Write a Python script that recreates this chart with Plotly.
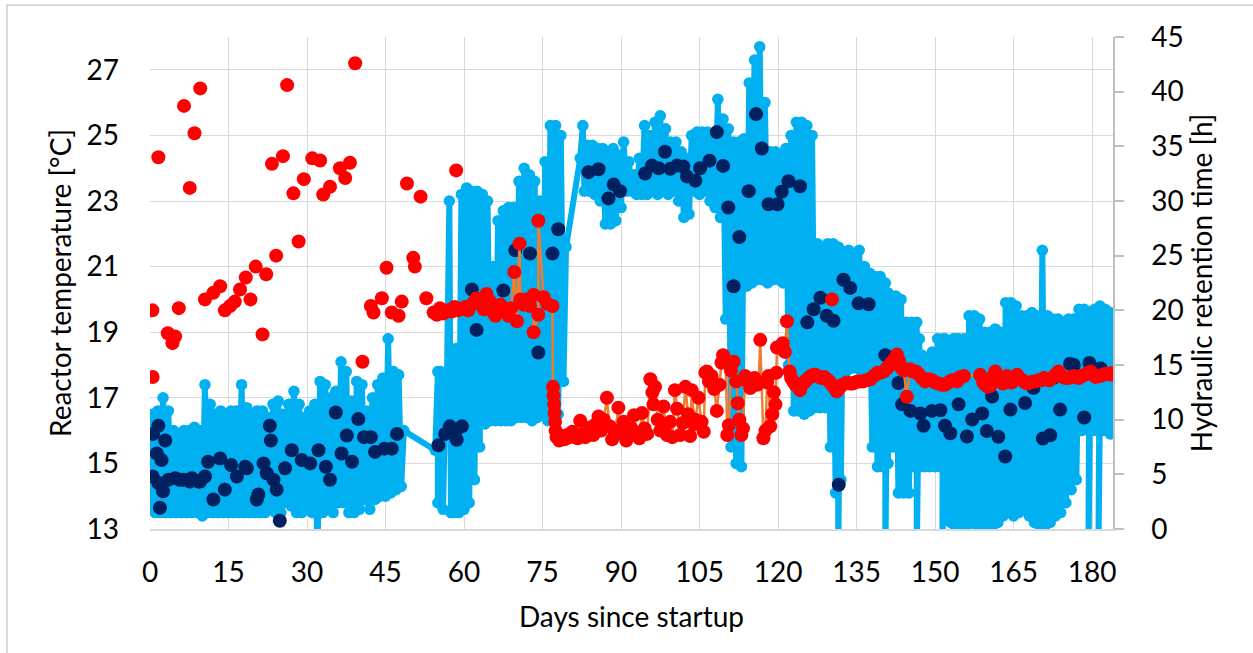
import plotly.graph_objects as go

# ---------------- data ----------------
# Light-blue reactor temperature log: two readings per logged day (first, second)
BLUE_DAY = [0, 1, 2, 3, 4, 5, 6, 7, 8, 9, 10, 11, 12, 13, 14, 15, 16, 17, 18, 19, 20,
            21, 22, 23, 24, 25, 26, 27, 28, 29, 30, 31, 32, 33, 34, 35, 36, 37, 38, 39, 40,
            41, 42, 43, 44, 45, 46, 47, 48,
            54.5, 55, 56, 56.7, 57.5, 58, 59, 60, 61, 62, 63, 64, 65, 66, 67, 68, 69, 70,
            71, 72, 73, 74, 75, 76, 77, 78, 79,
            82.2, 83, 84, 85, 86, 87, 88, 89, 90, 91, 92, 93, 94, 95, 96, 97, 98, 99, 100,
            101, 102, 103, 104, 105, 106, 107, 108, 109, 110, 111, 112, 113, 114, 115, 116,
            117, 118, 119, 120, 121, 122, 123, 124, 125, 126, 127, 128, 129, 130, 131, 131.5,
            132, 133, 134, 135, 136, 137, 138, 139, 140, 140.5, 141, 142, 143, 144, 145, 146,
            146.5, 147, 148, 149, 150, 151, 151.4, 152, 153, 153.4, 154, 155, 156, 157, 158,
            159, 160, 161, 162, 163, 164, 165, 166, 167, 168, 169, 170, 171, 172, 173, 174,
            175, 176, 177, 178, 179, 179.3, 180, 181, 181.2, 182, 183, 183.5]
BLUE_FIRST = [13.6, 13.5, 13.5, 13.5, 13.5, 13.5, 13.5, 13.5, 13.5, 13.5, 13.4, 13.5, 13.5,
              13.5, 13.5, 13.5, 13.5, 13.5, 13.5, 13.5, 13.5, 13.5, 13.5, 13.6, 13.5, 13.5,
              13.8, 13.7, 13.5, 13.5, 13.6, 13.5, 12.0, 13.5, 13.6, 13.5, 13.8, 13.8, 13.5,
              13.5, 13.6, 13.9, 13.6, 13.9, 14.0, 14.0, 14.1, 14.2, 14.3,
              15.4, 13.8, 13.6, 17.2, 13.5, 13.5, 13.5, 13.6, 13.8, 14.5, 15.5, 16.2, 16.3,
              16.3, 16.3, 16.3, 16.3, 16.4, 16.4, 16.4, 16.3, 16.4, 16.5, 16.3, 16.4, 16.5, 17.5,
              24.3, 23.3, 23.3, 23.2, 23.0, 22.3, 22.3, 22.4, 22.8, 23.3, 23.3, 23.2, 23.2,
              23.2, 23.3, 23.2, 23.3, 23.2, 23.3, 23.0, 22.5, 22.6, 23.3, 23.2, 23.3, 23.0,
              22.8, 22.5, 19.4, 15.5, 15.0, 14.9, 20.4, 20.5, 20.6, 20.6, 20.5, 20.6, 20.6,
              20.5, 18.0, 16.6, 16.6, 16.5, 16.6, 16.7, 16.7, 16.7, 15.5, 14.1, 12.0,
              14.5, 17.8, 17.9, 17.9, 17.8, 17.8, 15.5, 14.9, 14.9, 12.0, 15.0, 15.5, 14.1,
              14.1, 14.1, 14.9, 12.0, 14.9, 14.9, 14.9, 14.9, 14.9, 12.0, 13.3, 13.2, 12.0,
              13.2, 13.1, 13.1, 13.2, 13.1, 13.1, 13.1, 13.1, 13.2, 13.4, 13.5, 13.4, 13.5,
              13.6, 13.4, 13.2, 13.1, 13.1, 13.2, 13.4, 13.5, 13.8, 14.2, 14.5, 16.0, 16.1,
              12.0, 16.0, 16.0, 12.0, 16.0, 16.1, 15.9]
BLUE_SECOND = [16.5, 16.6, 17.0, 16.6, 16.0, 15.9, 16.0, 16.0, 16.1, 16.0, 17.4, 16.8, 16.5,
               16.6, 16.5, 16.6, 16.6, 17.4, 16.7, 16.5, 16.6, 16.6, 16.4, 16.8, 16.9, 16.5,
               16.8, 17.2, 16.8, 16.4, 16.6, 16.8, 17.5, 17.4, 17.0, 17.2, 18.1, 17.8, 16.9,
               17.5, 17.4, 16.6, 17.0, 17.4, 17.6, 18.8, 17.8, 17.7, 16.0,
               17.8, 17.8, 17.6, 23.0, 17.8, 18.5, 23.2, 23.4, 23.3, 23.3, 23.2, 23.0, 21.0,
               22.4, 22.7, 22.8, 22.8, 23.6, 24.0, 23.8, 23.6, 23.0, 24.2, 25.3, 25.3, 25.0, 21.6,
               25.3, 24.7, 24.7, 24.6, 24.6, 24.5, 24.6, 24.4, 24.8, 24.2, 23.8, 24.3, 25.3,
               25.0, 25.4, 25.6, 25.2, 24.8, 24.8, 24.5, 24.3, 25.0, 25.1, 25.1, 25.1, 25.0,
               26.1, 25.5, 25.2, 24.8, 24.8, 24.9, 26.6, 27.3, 27.7, 26.0, 24.5, 24.5, 24.4,
               24.6, 25.0, 25.4, 25.4, 25.3, 25.0, 21.7, 21.6, 21.7, 21.7, 21.6, 21.5,
               21.4, 21.5, 21.4, 21.5, 21.0, 20.8, 20.7, 20.7, 20.5, 20.2, 20.1, 20.1, 20.0,
               19.3, 19.3, 19.3, 18.8, 18.3, 18.2, 18.4, 18.8, 18.8, 18.8, 18.7, 18.8, 18.8,
               18.8, 18.8, 19.5, 19.5, 19.4, 19.0, 19.0, 19.1, 19.0, 19.9, 19.9, 19.8, 19.5,
               19.5, 19.6, 19.5, 21.5, 19.5, 19.4, 19.4, 19.3, 19.4, 19.4, 19.7, 19.7, 19.6,
               19.6, 19.7, 19.8, 19.6, 19.7, 19.6, 19.5]

# Dark-blue daily mean reactor temperature
NAVY_DAY = [0.5, 0.6, 1.3, 1.6, 1.6, 1.9, 2.2, 2.5, 2.9, 3.5, 4.8, 5.7, 6.4, 7.6, 8.0, 9.2,
            9.6, 10.5, 11.1, 12.1, 13.4, 14.3, 15.5, 16.6, 18.2, 18.5, 20.4, 20.7, 21.7, 22.3,
            22.9, 23.1, 23.6, 24.2, 24.8, 25.8, 27.1, 29.0, 30.6, 32.2, 33.6, 34.4, 35.5, 36.6,
            37.6, 38.6, 39.8, 40.9, 42.2, 43.0, 44.8, 46.2, 47.2,
            55.1, 56.4, 57.3, 58.3, 58.6, 59.6, 61.5, 62.4, 67.5, 69.8, 72.6, 74.2, 76.9, 78.0,
            83.8, 85.7, 87.6, 88.6, 89.8, 94.6, 95.9, 97.2, 98.4, 99.4, 100.7, 101.9, 102.6,
            104.2, 105.1, 106.9, 108.3, 109.5, 110.5, 111.5, 112.6, 114.4, 115.8, 116.9, 118.2,
            119.9, 120.7, 122.0, 124.2, 125.6, 126.8, 128.1, 129.3, 130.6, 131.6, 132.5, 133.8,
            135.4, 137.3, 140.5, 143.0, 143.7, 145.3, 147.2, 147.8, 149.4, 151.0, 151.9, 152.9,
            154.5, 156.1, 157.1, 159.0, 159.9, 160.9, 162.1, 163.4, 164.4, 167.2, 168.8, 170.6,
            172.0, 172.7, 173.9, 175.8, 176.5, 178.5, 179.5, 181.6]
NAVY_T = [14.6, 15.9, 15.3, 16.15, 14.4, 13.65, 15.1, 14.15, 15.7, 14.5, 14.55, 14.5, 14.5,
          14.45, 14.55, 14.45, 14.45, 14.6, 15.05, 13.9, 15.15, 14.2, 14.95, 14.6, 14.9, 14.85,
          13.9, 14.05, 15.0, 14.7, 16.15, 15.7, 14.5, 14.2, 13.25, 14.85, 15.4, 15.1, 15.0,
          15.4, 14.9, 14.5, 16.55, 15.3, 15.85, 15.05, 16.35, 15.8, 15.8, 15.35, 15.45, 15.45,
          15.9,
          15.55, 15.9, 16.13, 15.92, 15.72, 16.13, 20.3, 19.07, 20.27, 21.5, 21.4, 18.38, 21.4,
          22.14,
          23.88, 23.97, 23.08, 23.5, 23.3, 23.84, 24.08, 24.0, 24.5, 23.98, 24.08, 24.05, 23.75,
          23.62, 24.0, 24.23, 25.1, 24.07, 22.8, 20.4, 21.9, 23.3, 25.65, 24.6, 22.9, 22.9,
          23.28, 23.6, 23.45, 19.3, 19.7, 20.05, 19.5, 19.35, 14.35, 20.6, 20.35, 19.88, 19.85,
          18.3, 17.45, 16.8, 16.6, 16.52, 16.15, 16.6, 16.62, 16.15, 15.92, 16.8, 15.82, 16.34,
          16.52, 15.99, 17.04, 15.81, 15.21, 16.64, 16.84, 17.3, 15.76, 15.86, 17.62, 16.64,
          18.04, 18.0, 16.4, 18.06, 17.9]

# Red hydraulic retention time, early scattered values (markers only)
HRT_EARLY_DAY = [0.45, 0.5, 1.6, 3.4, 4.3, 4.8, 5.5, 6.5, 7.6, 8.5, 9.6, 10.5, 12.1, 13.4,
                 14.3, 15.3, 16.2, 17.2, 18.3, 19.2, 20.2, 21.5, 22.2, 23.3, 24.1, 25.4, 26.2,
                 27.4, 28.4, 29.4, 31.0, 32.5, 33.1, 34.4, 36.3, 37.3, 38.2, 39.2, 40.6, 42.2,
                 42.7, 44.3, 45.2, 46.2, 47.5, 48.1, 49.1, 50.3, 50.6, 51.7, 52.8, 58.5, 130.3]
HRT_EARLY_H = [20.0, 13.9, 34.0, 17.9, 17.0, 17.6, 20.2, 38.7, 31.2, 36.2, 40.3, 21.0, 21.6,
               22.2, 20.0, 20.4, 20.8, 21.9, 23.0, 21.0, 24.0, 17.8, 23.3, 33.4, 25.0, 34.1,
               40.6, 30.7, 26.3, 32.0, 33.9, 33.7, 30.6, 31.3, 33.0, 32.1, 33.5, 42.6, 15.3,
               20.4, 19.8, 21.1, 23.9, 19.8, 19.5, 20.8, 31.6, 24.8, 24.0, 30.4, 21.1, 32.8,
               21.0]

# Red hydraulic retention time, continuous record (markers joined by orange line)
HRT_DAY = [54.2, 54.8, 55.4, 56.0, 56.5, 57.1, 57.7, 58.2, 58.8, 59.3, 59.9, 60.3, 60.8, 61.2,
           61.8, 62.4, 62.9, 63.3, 63.8, 64.3, 65.0, 65.6, 66.0, 66.5, 67.0, 67.5, 68.0, 68.5,
           69.0, 69.6, 70.1, 70.6, 70.8, 71.4, 72.0, 72.6, 73.3, 73.3, 74.2, 74.2, 75.2, 75.9,
           76.9,
           77.0, 77.1, 77.2, 77.3, 77.4, 77.5, 77.7, 78.2, 78.7, 79.2, 79.7, 80.2, 80.7, 81.2,
           81.7, 82.2, 82.7, 83.2, 83.7, 84.2, 84.7, 85.2, 85.7, 86.2, 86.7, 87.3, 87.8, 88.3,
           88.8, 89.5, 90.0, 90.5, 91.0, 91.5, 92.0, 92.5, 93.0, 93.5, 94.0, 94.5, 95.0, 95.6,
           96.0, 96.2, 96.5, 97.0, 97.5, 98.1, 98.5, 98.8, 99.4, 99.8, 100.3, 100.7, 101.3,
           101.8, 102.3, 102.8, 103.2, 103.5, 104.0, 104.2, 104.8, 105.4, 105.8, 106.1, 106.4,
           106.8, 107.3, 107.8, 108.3, 108.8, 109.2, 109.5, 110.0, 110.3, 110.6, 111.0, 111.5,
           112.0, 112.3, 112.6, 113.0, 113.3, 113.7, 114.2, 114.7, 115.1, 115.5, 116.0, 116.3,
           116.6, 117.2, 117.6, 117.9, 118.2, 118.5, 118.9, 119.2, 119.5, 119.7, 119.8, 120.4,
           120.9, 121.3, 121.7, 122.2, 122.5, 122.9, 123.3, 123.8, 124.2, 124.6, 125.0, 125.4,
           125.8, 126.3, 126.8, 127.1, 127.4, 127.9, 128.3, 128.8, 129.3, 129.8, 130.3, 130.8,
           131.2, 131.4, 131.9, 132.3, 132.8, 133.2, 133.7, 134.2, 134.7, 135.2, 135.7, 136.3,
           136.9, 137.6, 138.3, 139.0, 139.6, 140.2, 140.8, 141.4, 141.6, 142.2, 142.7, 143.1,
           143.5, 144.0, 144.6, 145.2, 145.7, 146.3, 146.8, 147.5, 148.1, 148.8, 149.4, 150.0,
           150.7, 151.3, 151.9, 152.5, 153.2, 154.2, 154.5, 155.0, 155.5, 158.6, 159.2, 159.6,
           160.1, 160.6, 161.0, 161.5, 162.0, 162.5, 163.0, 163.7, 164.2, 164.6, 165.2, 165.7,
           166.2, 166.7, 167.2, 167.7, 168.2, 168.8, 169.3, 169.8, 170.3, 170.8, 171.3, 171.8,
           172.3, 172.8, 173.2, 173.6, 174.0, 174.5, 175.0, 175.5, 176.0, 176.5, 177.0, 177.5,
           178.0, 178.6, 179.2, 179.7, 180.2, 180.7, 181.2, 181.6, 182.1, 182.5, 183.0, 183.5,
           184.0]
HRT_H = [19.8, 19.6, 20.2, 19.7, 19.9, 20.0, 19.9, 20.3, 20.0, 20.1, 20.2, 20.3, 20.0, 20.4,
         20.7, 21.1, 20.8, 20.6, 20.1, 21.5, 20.8, 19.8, 19.5, 20.3, 20.5, 20.1, 19.8, 19.5,
         20.2, 23.5, 19.0, 26.1, 21.0, 20.5, 21.0, 20.4, 21.4, 18.0, 19.6, 28.2, 21.2, 20.6,
         20.4,
         13.0, 12.2, 11.4, 10.6, 9.8, 9.0, 8.4, 8.1, 8.5, 8.2, 8.6, 8.4, 8.9, 8.5,
         8.3, 9.9, 8.7, 8.4, 8.9, 9.3, 8.6, 9.6, 10.3, 9.0, 10.0, 12.0, 9.4, 8.2,
         8.6, 11.1, 9.1, 9.8, 8.1, 8.5, 9.2, 10.4, 8.8, 8.3, 10.6, 9.2, 8.7, 13.7,
         12.5, 11.4, 13.0, 10.0, 9.0, 11.2, 9.6, 8.6, 9.8, 8.4, 12.7, 11.0, 8.6,
         9.7, 13.0, 10.5, 8.5, 12.7, 9.6, 10.0, 12.0, 9.8, 8.9, 14.3, 14.4,
         13.5, 14.0, 12.8, 10.8, 13.2, 15.2, 15.9, 15.3, 8.6, 9.5, 14.5, 15.3,
         13.5, 11.5, 10.0, 8.6, 9.2, 14.0, 13.5, 12.9, 13.6, 13.8, 13.2, 13.4,
         17.3, 8.3, 9.0, 13.4, 14.0, 9.4, 10.5, 12.5, 11.4, 14.3, 16.6, 16.7,
         17.0, 16.2, 19.0, 14.4, 13.8, 13.5, 13.2, 13.0, 12.7, 13.2, 13.4, 13.6,
         13.8, 14.0, 14.1, 14.1, 14.0, 13.9, 13.8, 13.9, 13.7, 13.5, 13.2, 12.9,
         12.6, 12.7, 13.0, 13.2, 13.3, 13.4, 13.3, 13.3, 13.4, 13.5, 13.5, 13.5,
         13.6, 13.7, 14.0, 14.3, 14.3, 14.4, 14.7, 15.0, 15.2, 15.5, 15.95, 15.4,
         14.8, 14.5, 12.1, 14.6, 14.4, 14.4, 14.2, 13.8, 13.5, 13.7, 13.6, 13.4,
         13.3, 13.2, 13.2, 13.4, 13.6, 13.5, 13.8, 13.9, 14.0, 14.1, 13.4, 13.2,
         13.0, 13.1, 13.9, 14.4, 13.9, 13.6, 13.3, 14.0, 13.6, 13.4, 13.8, 14.1,
         13.7, 13.6, 13.4, 13.3, 13.4, 13.5, 13.5, 13.6, 13.6, 13.8, 13.7, 13.6,
         13.8, 14.0, 14.2, 14.4, 14.1, 13.9, 13.8, 13.8, 13.9, 14.0, 13.9, 13.8,
         14.0, 14.1, 14.3, 14.4, 14.1, 13.9, 14.0, 14.0, 14.1, 14.2, 14.2, 14.1,
         14.3]

X_TICKS = list(range(0, 181, 15))
Y_TICKS = list(range(13, 28, 2))
Y2_TICKS = list(range(0, 46, 5))

# ---------------- figure ----------------
bx, by = [], []
for d, a, b in zip(BLUE_DAY, BLUE_FIRST, BLUE_SECOND):
    bx += [d, d + 0.5]
    by += [a, b]

FONT = "Lato, 'Open Sans', sans-serif"
BLUE = "#00B0F0"
NAVY = "#002060"
RED = "#FF0000"
ORANGE = "#ED7D31"
GRID = "#D9D9D9"

fig = go.Figure()
fig.add_trace(go.Scatter(x=bx, y=by, mode="lines+markers",
                         line=dict(color=BLUE, width=6, simplify=False),
                         marker=dict(color=BLUE, size=11.5, line=dict(width=0)),
                         showlegend=False))
fig.add_trace(go.Scatter(x=NAVY_DAY, y=NAVY_T, mode="markers",
                         marker=dict(color=NAVY, size=14, line=dict(width=0)),
                         showlegend=False))
fig.add_trace(go.Scatter(x=HRT_DAY, y=HRT_H, mode="lines+markers", yaxis="y2",
                         line=dict(color=ORANGE, width=2.5),
                         marker=dict(color=RED, size=14, line=dict(width=0)),
                         showlegend=False))
fig.add_trace(go.Scatter(x=HRT_EARLY_DAY, y=HRT_EARLY_H, mode="markers", yaxis="y2",
                         marker=dict(color=RED, size=14, line=dict(width=0)),
                         showlegend=False))

fig.update_layout(
    width=1253, height=653,
    margin=dict(l=150, r=140, t=37, b=124),
    paper_bgcolor="white", plot_bgcolor="white",
    font=dict(family=FONT, size=28, color="#000000"),
    xaxis=dict(range=[0, 184], tickvals=X_TICKS, showgrid=True, gridcolor=GRID, gridwidth=1.3,
               zeroline=False, showline=True, linecolor=GRID, linewidth=1.5, ticks="",
               ticklabelstandoff=18,
               title=dict(text="Days since startup", standoff=20, font=dict(size=28))),
    yaxis=dict(range=[13, 28], tickvals=Y_TICKS, showgrid=True, gridcolor=GRID, gridwidth=1.3,
               zeroline=False, showline=False, ticks="", ticklabelstandoff=30,
               title=dict(text="Reactor temperature [°C]", standoff=6, font=dict(size=28))),
    yaxis2=dict(range=[0, 45], tickvals=Y2_TICKS, overlaying="y", side="right",
                showgrid=False, zeroline=False, showline=True, linecolor="#BFBFBF",
                linewidth=1.5, ticks="outside", ticklen=9, tickcolor="#BFBFBF", tickwidth=1.5,
                ticklabelstandoff=22,
                title=dict(text="Hydraulic retention time [h]", standoff=10,
                           font=dict(size=28))),
    shapes=[dict(type="rect", xref="paper", yref="paper",
                 x0=(7 - 150) / 963, x1=(1262 - 150) / 963,
                 y0=(529 - 662) / 492, y1=(529 - 5) / 492,
                 line=dict(color=GRID, width=2), fillcolor="rgba(0,0,0,0)", layer="below")],
)

fig.write_html("out.html")
